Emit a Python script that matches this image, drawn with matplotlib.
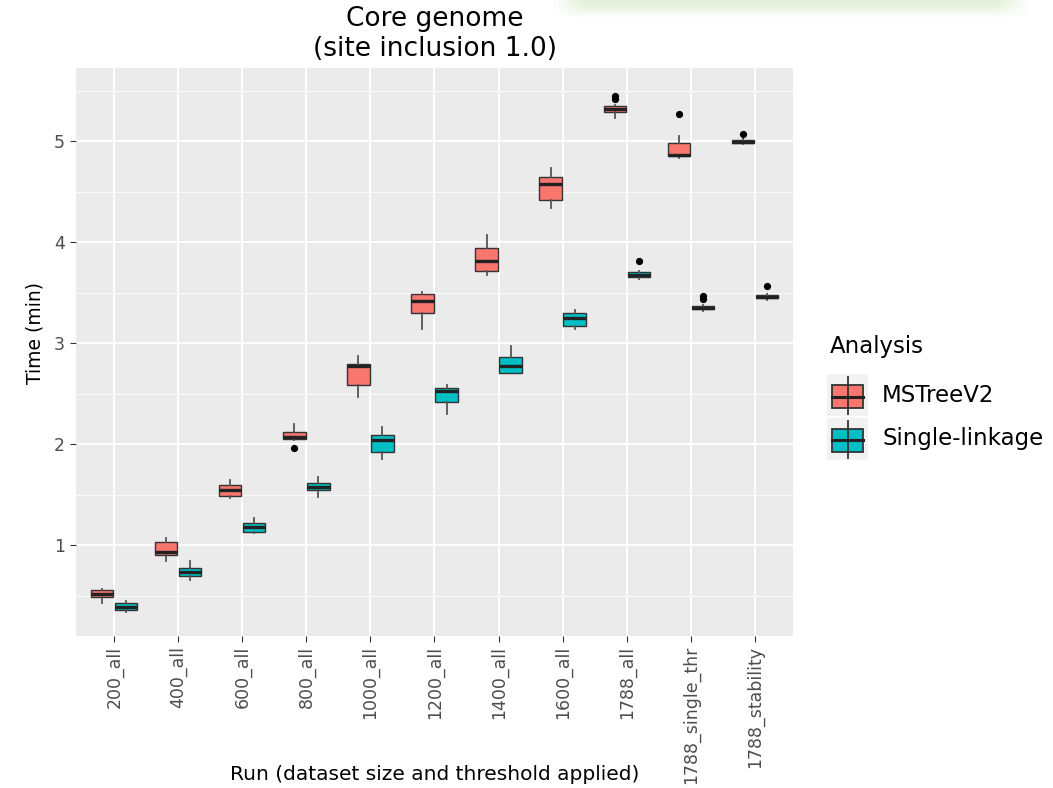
import numpy as np
import matplotlib
matplotlib.use("Agg")
import matplotlib.pyplot as plt
from matplotlib.patches import Rectangle

# ---- data -------------------------------------------------------------
categories = ['200_all', '400_all', '600_all', '800_all', '1000_all', '1200_all',
              '1400_all', '1600_all', '1788_all', '1788_single_thr', '1788_stability']
groups = ['MSTreeV2', 'Single-linkage']

mst_lo  = [0.43, 0.84, 1.47, 2.04, 2.47, 3.14, 3.67, 4.34, 5.23, 4.83, 4.97]
mst_q1  = [0.49, 0.90, 1.49, 2.05, 2.58, 3.30, 3.71, 4.42, 5.29, 4.85, 4.98]
mst_med = [0.51, 0.93, 1.54, 2.07, 2.77, 3.42, 3.81, 4.57, 5.32, 4.86, 4.99]
mst_q3  = [0.55, 1.03, 1.59, 2.12, 2.79, 3.49, 3.94, 4.64, 5.35, 4.98, 5.01]
mst_hi  = [0.56, 1.07, 1.64, 2.20, 2.87, 3.51, 4.07, 4.73, 5.36, 5.05, 5.04]
mst_out = [[], [], [], [1.96], [], [], [], [], [5.42, 5.45], [5.27], [5.07]]

sl_lo  = [0.34, 0.65, 1.12, 1.48, 1.85, 2.30, 2.70, 3.14, 3.63, 3.32, 3.43]
sl_q1  = [0.36, 0.69, 1.13, 1.54, 1.92, 2.42, 2.70, 3.17, 3.65, 3.334, 3.446]
sl_med = [0.39, 0.73, 1.18, 1.575, 2.04, 2.52, 2.77, 3.25, 3.67, 3.347, 3.46]
sl_q3  = [0.43, 0.77, 1.22, 1.61, 2.09, 2.55, 2.86, 3.30, 3.70, 3.363, 3.475]
sl_hi  = [0.45, 0.84, 1.27, 1.67, 2.17, 2.58, 2.97, 3.33, 3.71, 3.375, 3.49]
sl_out = [[], [], [], [], [], [], [], [], [3.81], [3.44, 3.47], [3.56]]

yticks = [1, 2, 3, 4, 5]

# ---- style ------------------------------------------------------------
RED = '#F8766D'
TEAL = '#00BFC4'
PANEL = '#EBEBEB'
EDGE = '#333333'
plt.rcParams['font.family'] = ['DejaVu Sans']

W, H = 1053, 788
fig = plt.figure(figsize=(W / 100, H / 100), dpi=100)
ax = fig.add_axes([76 / W, 1 - 636 / H, (793 - 76) / W, (636 - 68) / H])
ax.set_facecolor(PANEL)
for s in ax.spines.values():
    s.set_visible(False)


def make_stats(lo, q1, med, q3, hi, out):
    return [dict(whislo=a, q1=b, med=c, q3=d, whishi=e, fliers=f)
            for a, b, c, d, e, f in zip(lo, q1, med, q3, hi, out)]


x = np.arange(len(categories))
dodge = 0.1875
bw = 0.345
series = [
    (make_stats(mst_lo, mst_q1, mst_med, mst_q3, mst_hi, mst_out), -dodge, RED),
    (make_stats(sl_lo, sl_q1, sl_med, sl_q3, sl_hi, sl_out), dodge, TEAL),
]
for stats, off, col in series:
    ax.bxp(stats, positions=x + off, widths=bw, patch_artist=True,
           showcaps=False, manage_ticks=False,
           boxprops=dict(facecolor=col, edgecolor=EDGE, linewidth=1.0),
           medianprops=dict(color='#222222', linewidth=2.4, solid_capstyle='butt'),
           whiskerprops=dict(color='#555555', linewidth=1.3),
           flierprops=dict(marker='o', markerfacecolor='black', markeredgecolor='black',
                           markersize=4.2, linestyle='none'),
           zorder=3)

ax.set_xlim(-0.6, 10.6)
ax.set_ylim(0.099, 5.723)
ax.set_yticks(yticks)
ax.set_yticks(np.arange(0.5, 6.0, 1.0), minor=True)
ax.set_xticks(x)
ax.set_xticklabels(categories, rotation=90)
ax.grid(True, which='major', color='white', linewidth=1.3, zorder=0)
ax.grid(True, which='minor', axis='y', color='white', linewidth=0.6, zorder=0)
ax.set_axisbelow(True)
ax.tick_params(axis='both', which='major', length=4, width=0.8, color='#333333',
               labelcolor='#4D4D4D', labelsize=12.5)
ax.tick_params(axis='x', pad=3)
ax.tick_params(axis='y', pad=4)
ax.tick_params(which='minor', length=0)

fig.text(35 / W, 1 - 333 / H, 'Time (min)', rotation=90, fontsize=13.5,
         ha='center', va='center', color='black')
fig.text(435 / W, 1 - 775 / H, 'Run (dataset size and threshold applied)', fontsize=14.5,
         ha='center', va='center', color='black')
fig.text(435 / W, 1 - 34 / H, 'Core genome\n(site inclusion 1.0)', fontsize=19,
         ha='center', va='center', color='black', linespacing=1.2)

# ---- legend -----------------------------------------------------------
lax = fig.add_axes([815 / W, 1 - 475 / H, 238 / W, 150 / H])
lax.set_xlim(815, 1053)
lax.set_ylim(475, 325)
lax.axis('off')
lax.text(830, 347, 'Analysis', fontsize=16.5, va='center', ha='left', color='black')
key_cols = [RED, TEAL]
for i, (lab, col) in enumerate(zip(groups, key_cols)):
    top = 374 + i * 44
    lax.add_patch(Rectangle((827, top), 41, 42, facecolor='#F2F2F2', edgecolor='none'))
    cx = 847.5
    lax.plot([cx, cx], [top + 3, top + 40], color=EDGE, lw=1.3)
    lax.add_patch(Rectangle((832, top + 11), 31, 23, facecolor=col, edgecolor=EDGE, lw=1.3))
    lax.plot([832, 863], [top + 22.5, top + 22.5], color='#222222', lw=2.2)
    lax.text(882, top + 21, lab, fontsize=16.5, va='center', ha='left', color='black')

# ---- faint banner at the top right ------------------------------------
bax = fig.add_axes([550 / W, 1 - 22 / H, 480 / W, 22 / H])
bax.axis('off')
h, w = 22, 480
yy = np.linspace(0, 1, h)[:, None]
xx = np.linspace(0, 1, w)[None, :]
alpha = np.clip(1.2 - yy * 1.4, 0, 1) * np.clip(np.minimum(xx, 1 - xx) * 14, 0, 1)
img = np.zeros((h, w, 4))
img[..., 0] = 0.86
img[..., 1] = 0.93
img[..., 2] = 0.82
img[..., 3] = alpha * 0.8
bax.imshow(img, aspect='auto', extent=[0, 1, 0, 1])

fig.savefig('out.png', dpi=100)
